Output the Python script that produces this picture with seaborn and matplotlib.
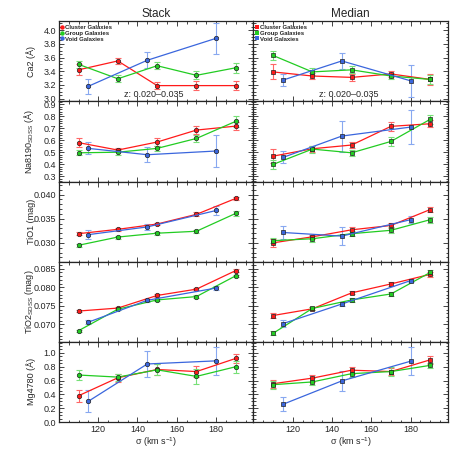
import numpy as np
import pandas as pd
import matplotlib
matplotlib.use("Agg")
import matplotlib.pyplot as plt
import seaborn as sns
from matplotlib.ticker import MultipleLocator

# -------------------------- data --------------------------
sig_cg = [110, 130, 150, 170, 190]   # cluster / group bins
sig_v = [115, 145, 180]              # void bins

indices = ["Ca2", "Na8190", "TiO1", "TiO2", "Mg4780"]
ylabels = ["Ca2 (Å)", r"Na8190$_{\rm SDSS}$ (Å)", "TiO1 (mag)",
           r"TiO2$_{\rm SDSS}$ (mag)", "Mg4780 (Å)"]
ylims = [(2.96, 4.13), (0.255, 0.925), (0.0261, 0.0427), (0.0653, 0.0869), (0.0, 1.16)]
ymajor = [0.2, 0.1, 0.005, 0.005, 0.2]
yminor = [0.05, 0.02, 0.001, 0.001, 0.05]
yfmt = ["%.1f", "%.1f", "%.3f", "%.3f", "%.1f"]

# Stack
stack_cl = [[3.42, 3.55, 3.19, 3.19, 3.19],
            [0.58, 0.518, 0.585, 0.685, 0.718],
            [0.0319, 0.0328, 0.0339, 0.0359, 0.0392],
            [0.0736, 0.0744, 0.0778, 0.0795, 0.0845],
            [0.38, 0.64, 0.76, 0.73, 0.92]]
stack_cl_err = [[0.08, 0.04, 0.05, 0.06, 0.06],
                [0.04, 0.02, 0.035, 0.035, 0.035],
                [0.0003, 0.0003, 0.0003, 0.0004, 0.0003],
                [0.0003, 0.0003, 0.0003, 0.0003, 0.0003],
                [0.09, 0.06, 0.08, 0.08, 0.07]]
stack_gr = [[3.50, 3.29, 3.48, 3.34, 3.45],
            [0.495, 0.50, 0.532, 0.615, 0.758],
            [0.0295, 0.0312, 0.0320, 0.0324, 0.0361],
            [0.0683, 0.0741, 0.0766, 0.0775, 0.0831],
            [0.68, 0.65, 0.755, 0.66, 0.80]]
stack_gr_err = [[0.05, 0.05, 0.05, 0.06, 0.07],
                [0.02, 0.02, 0.02, 0.03, 0.045],
                [0.0003, 0.0003, 0.0003, 0.0003, 0.0005],
                [0.0003, 0.0003, 0.0003, 0.0003, 0.0003],
                [0.07, 0.05, 0.08, 0.11, 0.09]]
stack_vo = [[3.18, 3.56, 3.88],
            [0.532, 0.479, 0.51],
            [0.0317, 0.0333, 0.0367],
            [0.0706, 0.0765, 0.0798],
            [0.30, 0.84, 0.885]]
stack_vo_err = [[0.11, 0.12, 0.23],
                [0.05, 0.065, 0.13],
                [0.0009, 0.0006, 0.0009],
                [0.0005, 0.0004, 0.0005],
                [0.16, 0.19, 0.2]]

# Median
med_cl = [[3.39, 3.33, 3.31, 3.36, 3.28],
          [0.467, 0.529, 0.56, 0.716, 0.738],
          [0.0300, 0.03125, 0.0327, 0.0336, 0.0369],
          [0.0724, 0.0742, 0.0785, 0.0809, 0.0835],
          [0.554, 0.635, 0.75, 0.73, 0.90]]
med_cl_err = [[0.11, 0.05, 0.05, 0.05, 0.08],
              [0.06, 0.025, 0.025, 0.04, 0.03],
              [0.0008, 0.0004, 0.0006, 0.0005, 0.0005],
              [0.0006, 0.0004, 0.0004, 0.0005, 0.0006],
              [0.06, 0.05, 0.05, 0.05, 0.06]]
med_gr = [[3.63, 3.39, 3.42, 3.33, 3.28],
          [0.398, 0.526, 0.495, 0.59, 0.775],
          [0.03045, 0.03085, 0.0319, 0.0326, 0.0348],
          [0.0676, 0.0743, 0.0766, 0.0782, 0.0840],
          [0.54, 0.58, 0.70, 0.73, 0.82]]
med_gr_err = [[0.07, 0.05, 0.05, 0.05, 0.06],
              [0.035, 0.03, 0.025, 0.035, 0.04],
              [0.0005, 0.0006, 0.0005, 0.0006, 0.0006],
              [0.0005, 0.0005, 0.0005, 0.0006, 0.0007],
              [0.06, 0.05, 0.05, 0.06, 0.04]]
med_vo = [[3.27, 3.55, 3.26],
          [0.456, 0.635, 0.71],
          [0.03215, 0.0314, 0.0348],
          [0.0702, 0.0755, 0.0818],
          [0.256, 0.595, 0.88]]
med_vo_err = [[0.09, 0.12, 0.23],
              [0.05, 0.13, 0.14],
              [0.0014, 0.0018, 0.0007],
              [0.001, 0.0005, 0.0004],
              [0.1, 0.14, 0.2]]

groups = ["Cluster Galaxies", "Group Galaxies", "Void Galaxies"]
line_cols = ["#ff1a1a", "#22cc22", "#3a66dd"]
err_cols = ["#ff6666", "#77e077", "#88a8f0"]

# -------------------------- style --------------------------
sns.set_style("ticks")
plt.rcParams['font.family'] = ['Liberation Sans', 'DejaVu Sans']
plt.rcParams['mathtext.fontset'] = 'custom'
plt.rcParams['mathtext.rm'] = 'Liberation Sans'
plt.rcParams['xtick.direction'] = 'in'
plt.rcParams['ytick.direction'] = 'in'

fig, axes = plt.subplots(5, 2, figsize=(4.71, 4.71), dpi=100, sharex=True)
fig.subplots_adjust(left=0.125, right=0.951, top=0.955, bottom=0.104,
                    wspace=0, hspace=0)

panels = [
    ("Stack", "o", [stack_cl, stack_gr, stack_vo], [stack_cl_err, stack_gr_err, stack_vo_err]),
    ("Median", "s", [med_cl, med_gr, med_vo], [med_cl_err, med_gr_err, med_vo_err]),
]

for col, (title, mk, vals, errs) in enumerate(panels):
    for row in range(5):
        ax = axes[row, col]
        for g in range(3):
            xs = sig_v if g == 2 else sig_cg
            df = pd.DataFrame({"sigma": xs, "val": vals[g][row]})
            ax.errorbar(xs, vals[g][row], yerr=errs[g][row], fmt='none',
                        ecolor=err_cols[g], elinewidth=0.8, capsize=2.2,
                        capthick=0.8, zorder=2)
            sns.lineplot(data=df, x="sigma", y="val", ax=ax, color=line_cols[g],
                         lw=0.9, marker=mk, markersize=3.2, markeredgecolor="#222222",
                         markeredgewidth=0.5, label=groups[g] if row == 0 else None,
                         zorder=3)
        ax.set_xlim(100, 199)
        ax.set_ylim(*ylims[row])
        ax.xaxis.set_major_locator(MultipleLocator(20))
        ax.xaxis.set_minor_locator(MultipleLocator(5))
        ax.yaxis.set_major_locator(MultipleLocator(ymajor[row]))
        ax.yaxis.set_minor_locator(MultipleLocator(yminor[row]))
        ax.yaxis.set_major_formatter(matplotlib.ticker.FormatStrFormatter(yfmt[row]))
        ax.tick_params(which='both', top=True, right=True, labelsize=6.5,
                       width=0.6, pad=2)
        ax.tick_params(which='major', length=3.5)
        ax.tick_params(which='minor', length=1.8)
        for sp in ax.spines.values():
            sp.set_linewidth(0.9)
        ax.set_xlabel("")
        if col == 0:
            ax.set_ylabel(ylabels[row], fontsize=6.5)
            ax.yaxis.set_label_coords(-0.12, 0.5)
        else:
            ax.set_ylabel("")
            ax.tick_params(labelleft=False)
        if row == 0:
            ax.set_title(title, fontsize=8.5, pad=3)
            ax.text(0.49, 0.09, "z: 0.020\u20130.035", transform=ax.transAxes,
                    ha='center', va='center', fontsize=6.5)
            leg = ax.legend(loc='upper left', frameon=False, handlelength=0,
                            handletextpad=0.5, borderaxespad=0.2, labelspacing=0.1,
                            prop={'size': 4.3, 'weight': 'bold'})
            for h in leg.legend_handles:
                h.set_linestyle('none')
                h.set_markeredgewidth(0)
        if row == 4:
            ax.set_xlabel(r"σ (km s$^{-1}$)", fontsize=6.5, labelpad=1)
            ax.set_xticks([120, 140, 160, 180])

fig.savefig("out.png", dpi=100)
